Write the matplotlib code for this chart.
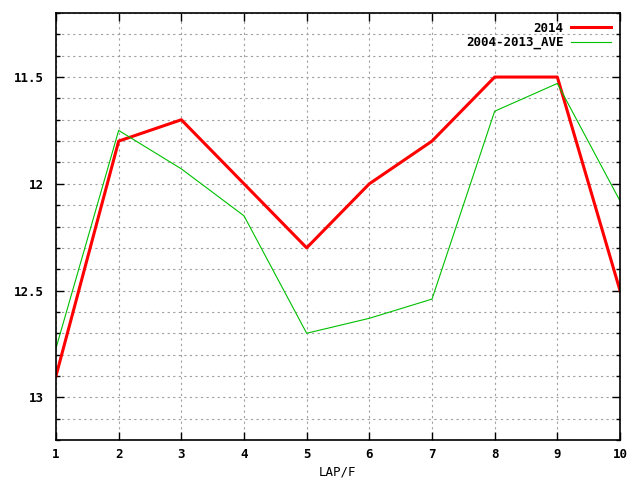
import numpy as np
import matplotlib
matplotlib.use("Agg")
import matplotlib.pyplot as plt
from matplotlib.ticker import MultipleLocator

laps = [1, 2, 3, 4, 5, 6, 7, 8, 9, 10]
y2014 = [12.9, 11.8, 11.7, 12.0, 12.3, 12.0, 11.8, 11.5, 11.5, 12.5]
ave = [12.77, 11.75, 11.93, 12.15, 12.70, 12.63, 12.54, 11.66, 11.53, 12.08]

plt.rcParams['font.family'] = 'DejaVu Sans Mono'
plt.rcParams['font.weight'] = 'bold'
plt.rcParams['font.size'] = 9

fig = plt.figure(figsize=(6.4, 4.8), dpi=100)
ax = fig.add_axes([56/640, 40/480, 564/640, 427/480])

ax.plot(laps, y2014, color='#ff0000', lw=2.2, label='2014')
ax.plot(laps, ave, color='#00c000', lw=0.8, label='2004-2013_AVE')

ax.set_xlim(1, 10)
ax.set_ylim(13.2, 11.2)
ax.xaxis.set_major_locator(MultipleLocator(1))
ax.yaxis.set_major_locator(MultipleLocator(0.5))
ax.yaxis.set_minor_locator(MultipleLocator(0.1))
ax.yaxis.set_major_formatter(plt.FuncFormatter(lambda v, p: f'{v:g}'))

# gnuplot-style dotted grid on every tick
ax.grid(True, which='both', axis='y', color='#a0a0a0', linestyle=(0, (2, 3)), lw=0.8)
ax.grid(True, which='major', axis='x', color='#a0a0a0', linestyle=(0, (2, 3)), lw=0.8)

ax.tick_params(which='both', direction='in', top=True, right=True, width=1)
ax.tick_params(which='major', length=6)
ax.tick_params(which='minor', length=3)
ax.tick_params(axis='x', pad=6)
ax.tick_params(axis='y', pad=9)
for s in ax.spines.values():
    s.set_linewidth(1.2)

ax.set_xlabel('LAP/F', labelpad=3)

ax.legend(loc='upper right', frameon=False, markerfirst=False,
          handlelength=3.2, borderaxespad=0.3, labelspacing=0.1, handletextpad=0.6)

fig.savefig('out.png', dpi=100)
